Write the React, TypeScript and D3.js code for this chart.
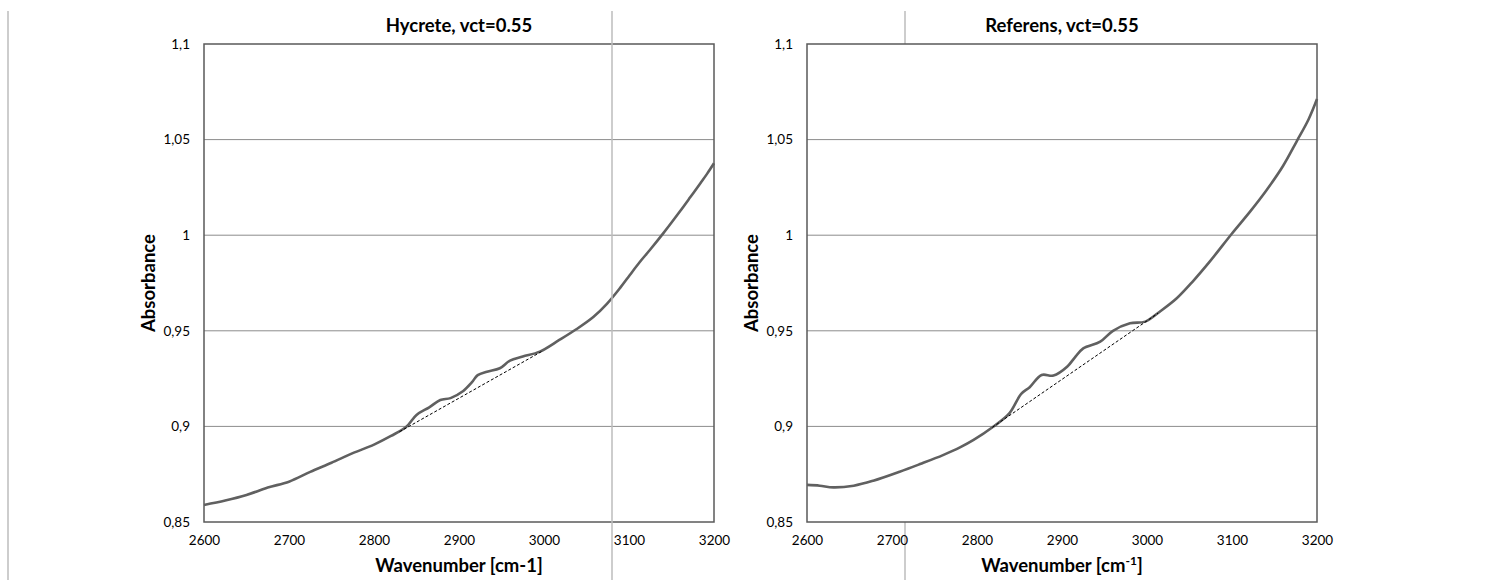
import React, { useRef, useEffect } from 'react';
import * as d3 from 'd3';

// wavenumber / absorbance
const hycreteWave = [2600, 2625, 2650, 2675, 2700, 2725, 2750, 2775, 2800, 2820, 2838, 2850, 2865, 2878, 2890, 2905, 2915, 2922, 2933, 2948, 2960, 2975, 2995, 3018, 3038, 3058, 3074, 3090, 3101, 3112, 3125, 3140, 3160, 3172, 3184, 3192, 3200];
const hycreteAbs = [0.8589, 0.8612, 0.8641, 0.868, 0.8711, 0.8762, 0.881, 0.886, 0.8905, 0.895, 0.8998, 0.906, 0.91, 0.9138, 0.9148, 0.9185, 0.923, 0.9268, 0.9286, 0.9304, 0.9344, 0.9365, 0.9391, 0.9452, 0.9508, 0.9572, 0.9641, 0.9727, 0.9792, 0.9856, 0.9925, 1.0008, 1.0125, 1.0198, 1.0272, 1.0322, 1.0376];
const hycreteBaseWave = [2830, 2997];
const hycreteBaseAbs = [0.8972, 0.9391];

const referensWave = [2600, 2615, 2631, 2655, 2678, 2709, 2733, 2760, 2780, 2796, 2819, 2838, 2852, 2862, 2876, 2890, 2906, 2915, 2925, 2945, 2960, 2980, 2998, 3015, 3035, 3054, 3074, 3100, 3121, 3141, 3160, 3176, 3190, 3200];
const referensAbs = [0.8694, 0.869, 0.8681, 0.869, 0.8716, 0.8763, 0.8803, 0.885, 0.889, 0.8929, 0.8998, 0.9068, 0.917, 0.9205, 0.9269, 0.9266, 0.9312, 0.936, 0.9408, 0.9443, 0.95, 0.9539, 0.9548, 0.96, 0.967, 0.9759, 0.9863, 1.0009, 1.0122, 1.0238, 1.0362, 1.049, 1.0605, 1.0712];
const referensBaseWave = [2818, 3013];
const referensBaseAbs = [0.8995, 0.9592];

const xTicks = [2600, 2700, 2800, 2900, 3000, 3100, 3200];
const yTicks = [0.85, 0.9, 0.95, 1, 1.05, 1.1];

const FONT = 'Lato, "Open Sans", sans-serif';

const drawPanel = (svg, left, title, superscript, wave, abs, baseWave, baseAbs) => {
  const x = d3.scaleLinear().domain([2600, 3200]).range([left, left + 510]);
  const y = d3.scaleLinear().domain([0.85, 1.1]).range([522, 44]);
  const g = svg.append('g');

  g.append('rect')
    .attr('x', x(2600)).attr('y', y(1.1))
    .attr('width', x(3200) - x(2600)).attr('height', y(0.85) - y(1.1))
    .attr('fill', 'white');

  // gridlines
  g.selectAll('.grid')
    .data(yTicks.slice(1, -1))
    .join('line')
    .attr('x1', x(2600)).attr('x2', x(3200))
    .attr('y1', (d) => y(d)).attr('y2', (d) => y(d))
    .attr('stroke', '#8c8c8c').attr('stroke-width', 1);

  const fmt = (d) => String(d).replace('.', ',');

  const yAxis = g.append('g').attr('transform', `translate(${x(2600)},0)`)
    .call(d3.axisLeft(y).tickValues(yTicks).tickSize(0).tickPadding(14).tickFormat(fmt));
  yAxis.select('.domain').remove();
  yAxis.selectAll('text').attr('font-family', FONT).attr('font-size', 13.5).attr('fill', '#000');

  const xAxis = g.append('g').attr('transform', `translate(0,${y(0.85)})`)
    .call(d3.axisBottom(x).tickValues(xTicks).tickSize(0).tickPadding(13).tickFormat((d) => String(d)));
  xAxis.select('.domain').remove();
  xAxis.selectAll('text').attr('font-family', FONT).attr('font-size', 13.5).attr('fill', '#000');

  // plot border
  g.append('rect')
    .attr('x', x(2600)).attr('y', y(1.1))
    .attr('width', x(3200) - x(2600)).attr('height', y(0.85) - y(1.1))
    .attr('fill', 'none').attr('stroke', '#5a5a5a').attr('stroke-width', 1.5);

  const pts = wave.map((w, i) => [w, abs[i]]);
  g.append('path')
    .datum(pts)
    .attr('fill', 'none')
    .attr('stroke', '#606060')
    .attr('stroke-width', 2.6)
    .attr('d', d3.line().x((d) => x(d[0])).y((d) => y(d[1])).curve(d3.curveCatmullRom.alpha(0.5)));

  const base = baseWave.map((w, i) => [w, baseAbs[i]]);
  g.append('path')
    .datum(base)
    .attr('fill', 'none')
    .attr('stroke', '#000')
    .attr('stroke-width', 1)
    .attr('stroke-dasharray', '3,2')
    .attr('d', d3.line().x((d) => x(d[0])).y((d) => y(d[1])));

  const cx = (x(2600) + x(3200)) / 2;
  g.append('text')
    .attr('x', cx).attr('y', 32)
    .attr('text-anchor', 'middle')
    .attr('font-family', FONT).attr('font-weight', 'bold').attr('font-size', 18.5)
    .text(title);

  const xt = g.append('text')
    .attr('x', cx).attr('y', 572)
    .attr('text-anchor', 'middle')
    .attr('font-family', FONT).attr('font-weight', 'bold').attr('font-size', 18.5);
  if (superscript) {
    xt.append('tspan').text('Wavenumber [cm');
    xt.append('tspan').attr('font-size', 12).attr('dy', -7).text('-1');
    xt.append('tspan').attr('dy', 7).text(']');
  } else {
    xt.text('Wavenumber [cm-1]');
  }

  g.append('text')
    .attr('transform', `translate(${left - 49},${(y(0.85) + y(1.1)) / 2}) rotate(-90)`)
    .attr('text-anchor', 'middle')
    .attr('font-family', FONT).attr('font-weight', 'bold').attr('font-size', 18.5)
    .text('Absorbance');
};

const App = () => {
  const svgRef = useRef(null);

  useEffect(() => {
    const svg = d3.select(svgRef.current);
    svg.selectAll('*').remove();

    svg.append('line').attr('x1', 8).attr('x2', 8).attr('y1', 11).attr('y2', 580)
      .attr('stroke', '#bdbdbd').attr('stroke-width', 1.5);

    drawPanel(svg, 204, 'Hycrete, vct=0.55', false, hycreteWave, hycreteAbs, hycreteBaseWave, hycreteBaseAbs);

    svg.append('line').attr('x1', 612).attr('x2', 612).attr('y1', 11).attr('y2', 580)
      .attr('stroke', '#bdbdbd').attr('stroke-width', 1.5);
    svg.append('line').attr('x1', 905).attr('x2', 905).attr('y1', 11).attr('y2', 580)
      .attr('stroke', '#bdbdbd').attr('stroke-width', 1.5);

    drawPanel(svg, 807, 'Referens, vct=0.55', true, referensWave, referensAbs, referensBaseWave, referensBaseAbs);
  }, []);

  return (
    <svg
      ref={svgRef}
      width={1501}
      height={580}
      style={{ position: 'absolute', left: 0, top: 0, background: 'white' }}
    />
  );
};

export default App;
